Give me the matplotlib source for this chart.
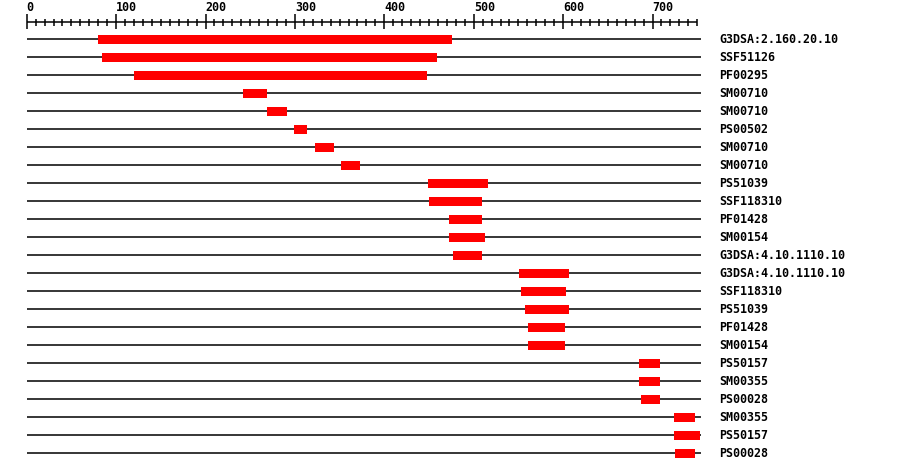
import matplotlib
matplotlib.use("Agg")
import matplotlib.pyplot as plt
import numpy as np

# domain hits (name, start, end)
names = ["G3DSA:2.160.20.10", "SSF51126", "PF00295", "SM00710", "SM00710",
         "PS00502", "SM00710", "SM00710", "PS51039", "SSF118310", "PF01428",
         "SM00154", "G3DSA:4.10.1110.10", "G3DSA:4.10.1110.10", "SSF118310",
         "PS51039", "PF01428", "SM00154", "PS50157", "SM00355", "PS00028",
         "SM00355", "PS50157", "PS00028"]
starts = [80, 84, 120, 242, 269, 299, 323, 352, 449, 450, 472, 472, 477,
          551, 553, 557, 561, 561, 685, 685, 687, 724, 724, 725]
ends = [476, 459, 448, 269, 291, 313, 344, 373, 516, 509, 509, 513, 509,
        607, 603, 607, 602, 602, 708, 708, 708, 747, 753, 747]
seq_len = 754

# pixel geometry of the original image
px_per_unit = 0.894
x0_px = 26.7
row0_px = 39.3
row_px = 18.0
W, H = 900, 472
LW = 1.1

fig = plt.figure(figsize=(W / 100, H / 100), dpi=100)
ax = fig.add_axes([0, 0, 1, 1])
ax.set_xlim(-x0_px / px_per_unit, (W - x0_px) / px_per_unit)
ax.set_ylim((H - row0_px) / row_px, -row0_px / row_px)
ax.axis("off")

def py(p):  # pixel y -> row coords
    return (p - row0_px) / row_px

n = len(names)
rows = np.arange(n)
ax.hlines(rows, 0, seq_len, color="black", lw=LW)
ax.barh(rows, np.array(ends) - np.array(starts), left=starts, height=9 / row_px,
        color="#ff0000", edgecolor="none", zorder=3)

mono = dict(family="DejaVu Sans Mono", fontweight="bold", fontsize=8.4)
label_x = (719 - x0_px) / px_per_unit
for r, name in zip(rows, names):
    ax.text(label_x, r, name, va="center", ha="left", **mono)

# ruler
ax.hlines(py(22.3), 0, 750, color="black", lw=LW)
for t in range(0, 751, 10):
    if t % 100 == 0:
        ax.vlines(t, py(14), py(29), color="black", lw=LW)
        ax.text(t, py(7.5), str(t), va="center", ha="left", **mono)
    else:
        ax.vlines(t, py(19), py(25.5), color="black", lw=LW)

fig.savefig("out.png", dpi=100, facecolor="white")
